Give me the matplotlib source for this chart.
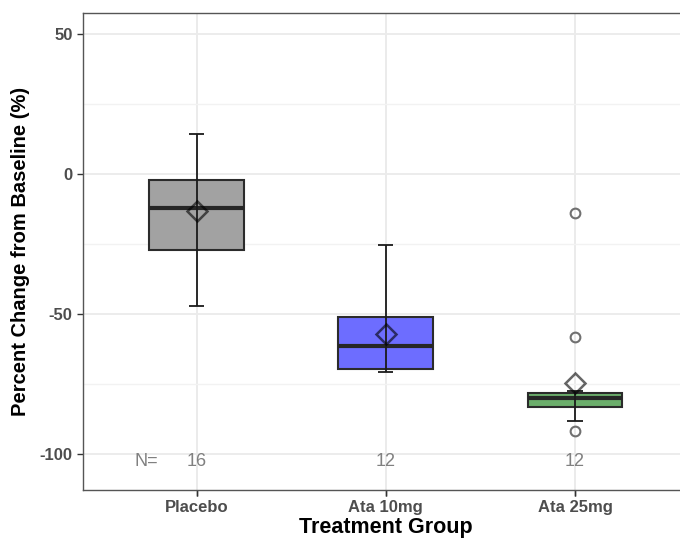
import matplotlib
matplotlib.use("Agg")
import matplotlib.pyplot as plt
import numpy as np

plt.rcParams['font.family'] = ['Liberation Sans', 'DejaVu Sans']
plt.rcParams['axes.unicode_minus'] = False

# Data
groups = ["Placebo", "Ata 10mg", "Ata 25mg"]
q1 = [-27.1, -69.7, -83.2]
q3 = [-2.1, -51.2, -78.3]
medians = [-12.0, -61.4, -80.2]
means = [-13.2, -57.0, -74.5]
whisk_lo = [-47.0, -70.6, -88.2]
whisk_hi = [14.3, -25.4, -77.7]
outliers = [[], [], [-14.0, -58.2, -91.7]]
n_counts = [16, 12, 12]
fills = ["#A2A2A2", "#6D6DFF", "#6BAE6B"]

fig = plt.figure(figsize=(6.8, 5.39), dpi=100)
ax = fig.add_axes([83/680, 1-490/539, (688.6-83)/680, (490-12.7)/539])

pos = np.arange(1, len(groups)+1)

ax.set_xlim(0.4, 3.6)
ax.set_ylim(-112.9, 57.6)
ax.set_yticks([50, 0, -50, -100])
ax.set_yticks([25, -25, -75], minor=True)
ax.set_xticks(pos)
ax.set_xticklabels(groups)
ax.grid(True, which='major', color='#EBEBEB', lw=1.3, zorder=0)
ax.grid(True, which='minor', axis='y', color='#F2F2F2', lw=1.0, zorder=0)
ax.set_axisbelow(True)

stats = []
for i in range(len(groups)):
    stats.append(dict(med=medians[i], q1=q1[i], q3=q3[i],
                      whislo=q1[i], whishi=q3[i], fliers=[], label=groups[i]))
bp = ax.bxp(stats, positions=pos, widths=0.5, patch_artist=True,
            showcaps=False, showfliers=False,
            boxprops=dict(edgecolor='#2b2b2b', linewidth=1.5),
            medianprops=dict(color='#262626', linewidth=3.0, solid_capstyle='butt'),
            whiskerprops=dict(linewidth=0), zorder=2)
for patch, c in zip(bp['boxes'], fills):
    patch.set_facecolor(c)

# error-bar style whiskers drawn over boxes
ax.vlines(pos, whisk_lo, whisk_hi, color='#1a1a1a', lw=1.3, zorder=3)
cap = 0.04
for p, lo, hi in zip(pos, whisk_lo, whisk_hi):
    ax.hlines([lo, hi], p - cap, p + cap, color='#1a1a1a', lw=1.3, zorder=3)

# outliers
for p, outs in zip(pos, outliers):
    if outs:
        ax.plot([p]*len(outs), outs, linestyle='none', marker='o', ms=7,
                mfc='none', mec='#707070', mew=1.5, zorder=4)

# means
ax.plot(pos, means, linestyle='none', marker='D', ms=10, mfc='none',
        mec=(0, 0, 0, 0.6), mew=1.8, zorder=5)

# N counts
ax.text(0.733, -102.8, "N=", ha='center', va='center', fontsize=13, color='#808080')
for p, n in zip(pos, n_counts):
    ax.text(p, -102.8, str(n), ha='center', va='center', fontsize=13, color='#808080')

for s in ax.spines.values():
    s.set_color('#555555')
    s.set_linewidth(1.0)
ax.tick_params(axis='both', which='major', length=4, color='#333333', width=1.0,
               labelcolor='#4D4D4D', labelsize=12)
ax.tick_params(axis='y', which='minor', length=0)
for lbl in ax.get_xticklabels() + ax.get_yticklabels():
    lbl.set_fontweight('bold')

ax.set_xlabel("Treatment Group", fontsize=15.5, fontweight='bold', color='black', labelpad=1)
ax.set_ylabel("Percent Change from Baseline (%)", fontsize=14.5, fontweight='bold',
              color='black', labelpad=7)

fig.savefig("out.png", dpi=100)
